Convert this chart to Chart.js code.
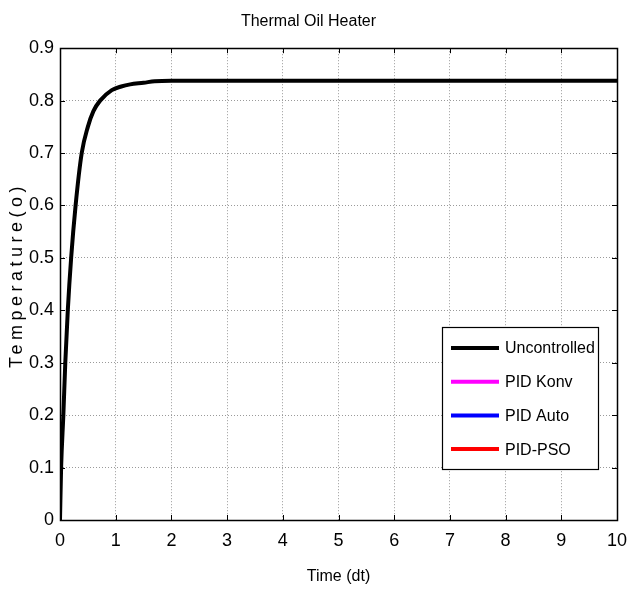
<!DOCTYPE html>
<html>
<head>
<meta charset="utf-8">
<script src="https://cdn.jsdelivr.net/npm/chart.js@4/dist/chart.umd.min.js"></script>
<style>
  html, body { margin: 0; padding: 0; background: #fff; }
  #wrap { width: 628px; height: 594px; }
</style>
</head>
<body>
<div id="wrap"><canvas id="heater" width="628" height="594"></canvas></div>
<script>
// values
var timeVals = [0, 0.02, 0.06, 0.095, 0.14, 0.2, 0.28, 0.39, 0.5, 0.6, 0.72, 0.93, 1.1, 1.26, 1.5, 1.7, 2, 10];
var uncontrolled = [0, 0.1, 0.2, 0.3, 0.4, 0.5, 0.6, 0.7, 0.75, 0.78, 0.8, 0.82, 0.827, 0.831, 0.834, 0.837, 0.838, 0.838];
var pidKonv = [];
var pidAuto = [];
var pidPso = [];
var seriesNames = ['Uncontrolled', 'PID Konv', 'PID Auto', 'PID-PSO'];
var xTicks = [0, 1, 2, 3, 4, 5, 6, 7, 8, 9, 10];
var yTicks = [0, 0.1, 0.2, 0.3, 0.4, 0.5, 0.6, 0.7, 0.8, 0.9];

var color = {
    Uncontrolled: '#000000',
    Konv: '#ff00ff',
    Auto: '#0000ff',
    PSO: '#ff0000'
};

var sans = "'Liberation Sans', Arial, sans-serif";

function points(vals) {
    var out = [];
    for (var i = 0; i < vals.length; i++) {
        out.push({ x: timeVals[i], y: vals[i] });
    }
    return out;
}

// box, inner tick marks, y title and legend, MATLAB style
var matlabFrame = {
    id: 'matlabFrame',
    afterDraw: function(chart) {
        var ctx = chart.ctx;
        var a = chart.chartArea;
        var xs = chart.scales.x, ys = chart.scales.y;
        ctx.save();
        ctx.strokeStyle = '#000';
        ctx.lineWidth = 1;
        ctx.beginPath();
        xTicks.forEach(function(t) {
            var px = Math.round(xs.getPixelForValue(t)) + 0.5;
            ctx.moveTo(px, a.bottom); ctx.lineTo(px, a.bottom - 5);
            ctx.moveTo(px, a.top); ctx.lineTo(px, a.top + 5);
        });
        yTicks.forEach(function(t) {
            var py = Math.round(ys.getPixelForValue(t)) + 0.5;
            ctx.moveTo(a.left, py); ctx.lineTo(a.left + 5, py);
            ctx.moveTo(a.right, py); ctx.lineTo(a.right - 5, py);
        });
        ctx.stroke();
        ctx.lineWidth = 1.5;
        ctx.strokeRect(Math.round(a.left) + 0.5, Math.round(a.top) + 0.5,
            Math.round(a.right - a.left), Math.round(a.bottom - a.top));

        // y axis title
        ctx.save();
        ctx.translate(17, 277);
        ctx.rotate(-Math.PI / 2);
        ctx.font = '18px ' + sans;
        ctx.letterSpacing = '4.5px';
        ctx.fillStyle = '#000';
        ctx.textAlign = 'center';
        ctx.textBaseline = 'middle';
        ctx.fillText('Temperature(o)', 2, 0);
        ctx.restore();

        // legend
        var bx = 442, by = 327, bw = 156, bh = 142;
        ctx.fillStyle = '#fff';
        ctx.fillRect(bx, by, bw, bh);
        ctx.lineWidth = 1.2;
        ctx.strokeStyle = '#000';
        ctx.strokeRect(bx + 0.5, by + 0.5, bw, bh);
        ctx.font = '16px ' + sans;
        ctx.textAlign = 'left';
        ctx.textBaseline = 'middle';
        chart.data.datasets.forEach(function(ds, i) {
            var ry = 348 + i * 33.7;
            ctx.strokeStyle = ds.borderColor;
            ctx.lineWidth = 4;
            ctx.beginPath();
            ctx.moveTo(451, ry); ctx.lineTo(499, ry);
            ctx.stroke();
            ctx.fillStyle = '#000';
            ctx.fillText(ds.label, 505, ry + 1);
        });
        ctx.restore();
    }
};

var chart = new Chart(document.getElementById('heater').getContext('2d'), {
    type: 'line',
    data: {
        datasets: [{
            label: seriesNames[0],
            data: points(uncontrolled),
            borderColor: color.Uncontrolled,
            borderWidth: 4,
            pointRadius: 0,
            cubicInterpolationMode: 'monotone',
            fill: false
        }, {
            label: seriesNames[1],
            data: points(pidKonv),
            borderColor: color.Konv,
            borderWidth: 4,
            pointRadius: 0
        }, {
            label: seriesNames[2],
            data: points(pidAuto),
            borderColor: color.Auto,
            borderWidth: 4,
            pointRadius: 0
        }, {
            label: seriesNames[3],
            data: points(pidPso),
            borderColor: color.PSO,
            borderWidth: 4,
            pointRadius: 0
        }]
    },
    options: {
        responsive: false,
        animation: false,
        devicePixelRatio: 1,
        layout: { padding: { left: 0, right: 11, top: 0, bottom: 0 } },
        plugins: {
            legend: { display: false },
            tooltip: { enabled: false },
            title: {
                display: true,
                text: 'Thermal Oil Heater',
                color: '#000',
                font: { family: sans, size: 16, weight: 'normal' },
                padding: { top: 12, bottom: 17 }
            }
        },
        scales: {
            x: {
                type: 'linear',
                min: 0,
                max: 10,
                afterFit: function(s) { s.height = 74; s.paddingLeft = 0; s.paddingRight = 0; },
                afterBuildTicks: function(s) { s.ticks = xTicks.map(function(v) { return { value: v }; }); },
                grid: { color: '#9a9a9a', lineWidth: 1, drawTicks: false },
                border: { display: false, dash: [1, 2] },
                ticks: {
                    color: '#000',
                    padding: 10,
                    maxRotation: 0,
                    font: { family: sans, size: 18 }
                },
                title: {
                    display: true,
                    text: 'Time (dt)',
                    color: '#000',
                    font: { family: sans, size: 16 },
                    padding: { top: 0, bottom: 8 }
                }
            },
            y: {
                min: 0,
                max: 0.9,
                afterFit: function(s) { s.width = 60; s.paddingTop = 0; s.paddingBottom = 0; },
                afterBuildTicks: function(s) { s.ticks = yTicks.map(function(v) { return { value: v }; }); },
                grid: { color: '#9a9a9a', lineWidth: 1, drawTicks: false },
                border: { display: false, dash: [1, 2] },
                ticks: {
                    color: '#000',
                    padding: 6,
                    font: { family: sans, size: 18 },
                    callback: function(v) { return v === 0 ? '0' : v.toFixed(1); }
                }
            }
        }
    },
    plugins: [matlabFrame]
});
</script>
</body>
</html>
